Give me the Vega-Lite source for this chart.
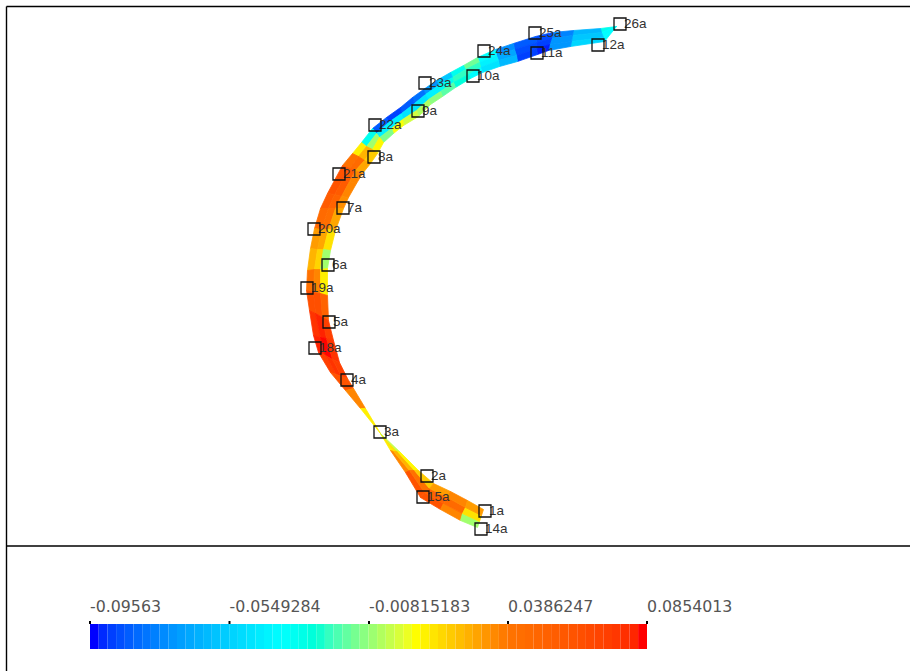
{"$schema":"https://vega.github.io/schema/vega-lite/v6.json","width":910,"height":671,"autosize":"none","padding":0,"background":"white","view":{"stroke":null},
"datasets":{
"mesh":[
{"type":"Feature","properties":{"v":-0.03},"geometry":{"type":"Polygon","coordinates":[[[616,26],[600,28],[601,32],[616,26]]]}},
{"type":"Feature","properties":{"v":-0.035},"geometry":{"type":"Polygon","coordinates":[[[616,26],[601,32],[603,37],[616,26]]]}},
{"type":"Feature","properties":{"v":-0.035},"geometry":{"type":"Polygon","coordinates":[[[616,26],[603,37],[604,41],[616,26]]]}},
{"type":"Feature","properties":{"v":-0.06},"geometry":{"type":"Polygon","coordinates":[[[600,28],[573,30],[572,35],[601,32],[600,28]]]}},
{"type":"Feature","properties":{"v":-0.055},"geometry":{"type":"Polygon","coordinates":[[[601,32],[572,35],[571,41],[603,37],[601,32]]]}},
{"type":"Feature","properties":{"v":-0.05},"geometry":{"type":"Polygon","coordinates":[[[603,37],[571,41],[570,46],[604,41],[603,37]]]}},
{"type":"Feature","properties":{"v":-0.075},"geometry":{"type":"Polygon","coordinates":[[[573,30],[552,32],[551,38],[572,35],[573,30]]]}},
{"type":"Feature","properties":{"v":-0.07},"geometry":{"type":"Polygon","coordinates":[[[572,35],[551,38],[549,44],[571,41],[572,35]]]}},
{"type":"Feature","properties":{"v":-0.07},"geometry":{"type":"Polygon","coordinates":[[[571,41],[549,44],[548,50],[570,46],[571,41]]]}},
{"type":"Feature","properties":{"v":-0.088},"geometry":{"type":"Polygon","coordinates":[[[552,32],[535,36],[536,42],[551,38],[552,32]]]}},
{"type":"Feature","properties":{"v":-0.09},"geometry":{"type":"Polygon","coordinates":[[[551,38],[536,42],[536,48],[549,44],[551,38]]]}},
{"type":"Feature","properties":{"v":-0.094},"geometry":{"type":"Polygon","coordinates":[[[549,44],[536,48],[537,54],[548,50],[549,44]]]}},
{"type":"Feature","properties":{"v":-0.085},"geometry":{"type":"Polygon","coordinates":[[[535,36],[513,43],[514,49],[536,42],[535,36]]]}},
{"type":"Feature","properties":{"v":-0.088},"geometry":{"type":"Polygon","coordinates":[[[536,42],[514,49],[516,55],[536,48],[536,42]]]}},
{"type":"Feature","properties":{"v":-0.09},"geometry":{"type":"Polygon","coordinates":[[[536,48],[516,55],[517,61],[537,54],[536,48]]]}},
{"type":"Feature","properties":{"v":-0.072},"geometry":{"type":"Polygon","coordinates":[[[513,43],[495,49],[496,55],[514,49],[513,43]]]}},
{"type":"Feature","properties":{"v":-0.065},"geometry":{"type":"Polygon","coordinates":[[[514,49],[496,55],[498,60],[516,55],[514,49]]]}},
{"type":"Feature","properties":{"v":-0.06},"geometry":{"type":"Polygon","coordinates":[[[516,55],[498,60],[499,66],[517,61],[516,55]]]}},
{"type":"Feature","properties":{"v":-0.035},"geometry":{"type":"Polygon","coordinates":[[[495,49],[477,57],[479,62],[496,55],[495,49]]]}},
{"type":"Feature","properties":{"v":-0.04},"geometry":{"type":"Polygon","coordinates":[[[496,55],[479,62],[480,67],[498,60],[496,55]]]}},
{"type":"Feature","properties":{"v":-0.045},"geometry":{"type":"Polygon","coordinates":[[[498,60],[480,67],[482,72],[499,66],[498,60]]]}},
{"type":"Feature","properties":{"v":-0.012},"geometry":{"type":"Polygon","coordinates":[[[477,57],[463,65],[465,69],[479,62],[477,57]]]}},
{"type":"Feature","properties":{"v":-0.02},"geometry":{"type":"Polygon","coordinates":[[[479,62],[465,69],[468,74],[480,67],[479,62]]]}},
{"type":"Feature","properties":{"v":-0.035},"geometry":{"type":"Polygon","coordinates":[[[480,67],[468,74],[470,78],[482,72],[480,67]]]}},
{"type":"Feature","properties":{"v":-0.03},"geometry":{"type":"Polygon","coordinates":[[[463,65],[450,72],[452,77],[465,69],[463,65]]]}},
{"type":"Feature","properties":{"v":-0.02},"geometry":{"type":"Polygon","coordinates":[[[465,69],[452,77],[453,82],[468,74],[465,69]]]}},
{"type":"Feature","properties":{"v":-0.025},"geometry":{"type":"Polygon","coordinates":[[[468,74],[453,82],[455,87],[470,78],[468,74]]]}},
{"type":"Feature","properties":{"v":-0.055},"geometry":{"type":"Polygon","coordinates":[[[450,72],[436,80],[438,85],[452,77],[450,72]]]}},
{"type":"Feature","properties":{"v":-0.03},"geometry":{"type":"Polygon","coordinates":[[[452,77],[438,85],[440,91],[453,82],[452,77]]]}},
{"type":"Feature","properties":{"v":-0.015},"geometry":{"type":"Polygon","coordinates":[[[453,82],[440,91],[442,96],[455,87],[453,82]]]}},
{"type":"Feature","properties":{"v":-0.07},"geometry":{"type":"Polygon","coordinates":[[[436,80],[423,89],[425,94],[438,85],[436,80]]]}},
{"type":"Feature","properties":{"v":-0.04},"geometry":{"type":"Polygon","coordinates":[[[438,85],[425,94],[428,99],[440,91],[438,85]]]}},
{"type":"Feature","properties":{"v":-0.008},"geometry":{"type":"Polygon","coordinates":[[[440,91],[428,99],[430,104],[442,96],[440,91]]]}},
{"type":"Feature","properties":{"v":-0.08},"geometry":{"type":"Polygon","coordinates":[[[423,89],[412,97],[414,103],[425,94],[423,89]]]}},
{"type":"Feature","properties":{"v":-0.045},"geometry":{"type":"Polygon","coordinates":[[[425,94],[414,103],[416,110],[428,99],[425,94]]]}},
{"type":"Feature","properties":{"v":-0.003},"geometry":{"type":"Polygon","coordinates":[[[428,99],[416,110],[418,116],[430,104],[428,99]]]}},
{"type":"Feature","properties":{"v":-0.085},"geometry":{"type":"Polygon","coordinates":[[[412,97],[400,107],[401,113],[414,103],[412,97]]]}},
{"type":"Feature","properties":{"v":-0.045},"geometry":{"type":"Polygon","coordinates":[[[414,103],[401,113],[402,119],[416,110],[414,103]]]}},
{"type":"Feature","properties":{"v":0.002},"geometry":{"type":"Polygon","coordinates":[[[416,110],[402,119],[403,125],[418,116],[416,110]]]}},
{"type":"Feature","properties":{"v":-0.09},"geometry":{"type":"Polygon","coordinates":[[[400,107],[386,117],[388,122],[401,113],[400,107]]]}},
{"type":"Feature","properties":{"v":-0.04},"geometry":{"type":"Polygon","coordinates":[[[401,113],[388,122],[391,128],[402,119],[401,113]]]}},
{"type":"Feature","properties":{"v":0.008},"geometry":{"type":"Polygon","coordinates":[[[402,119],[391,128],[393,133],[403,125],[402,119]]]}},
{"type":"Feature","properties":{"v":-0.085},"geometry":{"type":"Polygon","coordinates":[[[386,117],[372,128],[376,133],[388,122],[386,117]]]}},
{"type":"Feature","properties":{"v":-0.04},"geometry":{"type":"Polygon","coordinates":[[[388,122],[376,133],[379,137],[391,128],[388,122]]]}},
{"type":"Feature","properties":{"v":-0.01},"geometry":{"type":"Polygon","coordinates":[[[391,128],[379,137],[383,142],[393,133],[391,128]]]}},
{"type":"Feature","properties":{"v":-0.03},"geometry":{"type":"Polygon","coordinates":[[[372,128],[361,142],[366,146],[376,133],[372,128]]]}},
{"type":"Feature","properties":{"v":-0.005},"geometry":{"type":"Polygon","coordinates":[[[376,133],[366,146],[372,149],[379,137],[376,133]]]}},
{"type":"Feature","properties":{"v":0.01},"geometry":{"type":"Polygon","coordinates":[[[379,137],[372,149],[377,153],[383,142],[379,137]]]}},
{"type":"Feature","properties":{"v":0.012},"geometry":{"type":"Polygon","coordinates":[[[361,142],[352,153],[358,156],[366,146],[361,142]]]}},
{"type":"Feature","properties":{"v":0.025},"geometry":{"type":"Polygon","coordinates":[[[366,146],[358,156],[364,160],[372,149],[366,146]]]}},
{"type":"Feature","properties":{"v":0.02},"geometry":{"type":"Polygon","coordinates":[[[372,149],[364,160],[370,163],[377,153],[372,149]]]}},
{"type":"Feature","properties":{"v":0.04},"geometry":{"type":"Polygon","coordinates":[[[352,153],[342,165],[349,168],[358,156],[352,153]]]}},
{"type":"Feature","properties":{"v":0.045},"geometry":{"type":"Polygon","coordinates":[[[358,156],[349,168],[355,170],[364,160],[358,156]]]}},
{"type":"Feature","properties":{"v":0.028},"geometry":{"type":"Polygon","coordinates":[[[364,160],[355,170],[362,173],[370,163],[364,160]]]}},
{"type":"Feature","properties":{"v":0.06},"geometry":{"type":"Polygon","coordinates":[[[342,165],[335,178],[342,180],[349,168],[342,165]]]}},
{"type":"Feature","properties":{"v":0.055},"geometry":{"type":"Polygon","coordinates":[[[349,168],[342,180],[349,181],[355,170],[349,168]]]}},
{"type":"Feature","properties":{"v":0.035},"geometry":{"type":"Polygon","coordinates":[[[355,170],[349,181],[356,183],[362,173],[355,170]]]}},
{"type":"Feature","properties":{"v":0.06},"geometry":{"type":"Polygon","coordinates":[[[335,178],[327,193],[334,194],[342,180],[335,178]]]}},
{"type":"Feature","properties":{"v":0.055},"geometry":{"type":"Polygon","coordinates":[[[342,180],[334,194],[341,196],[349,181],[342,180]]]}},
{"type":"Feature","properties":{"v":0.035},"geometry":{"type":"Polygon","coordinates":[[[349,181],[341,196],[348,197],[356,183],[349,181]]]}},
{"type":"Feature","properties":{"v":0.055},"geometry":{"type":"Polygon","coordinates":[[[327,193],[320,208],[328,208],[334,194],[327,193]]]}},
{"type":"Feature","properties":{"v":0.05},"geometry":{"type":"Polygon","coordinates":[[[334,194],[328,208],[335,208],[341,196],[334,194]]]}},
{"type":"Feature","properties":{"v":0.033},"geometry":{"type":"Polygon","coordinates":[[[341,196],[335,208],[343,208],[348,197],[341,196]]]}},
{"type":"Feature","properties":{"v":0.045},"geometry":{"type":"Polygon","coordinates":[[[320,208],[314,228],[321,229],[328,208],[320,208]]]}},
{"type":"Feature","properties":{"v":0.042},"geometry":{"type":"Polygon","coordinates":[[[328,208],[321,229],[328,229],[335,208],[328,208]]]}},
{"type":"Feature","properties":{"v":0.028},"geometry":{"type":"Polygon","coordinates":[[[335,208],[328,229],[335,230],[343,208],[335,208]]]}},
{"type":"Feature","properties":{"v":0.03},"geometry":{"type":"Polygon","coordinates":[[[314,228],[310,248],[317,249],[321,229],[314,228]]]}},
{"type":"Feature","properties":{"v":0.028},"geometry":{"type":"Polygon","coordinates":[[[321,229],[317,249],[323,249],[328,229],[321,229]]]}},
{"type":"Feature","properties":{"v":0.015},"geometry":{"type":"Polygon","coordinates":[[[328,229],[323,249],[330,250],[335,230],[328,229]]]}},
{"type":"Feature","properties":{"v":0.025},"geometry":{"type":"Polygon","coordinates":[[[310,248],[307,270],[314,269],[317,249],[310,248]]]}},
{"type":"Feature","properties":{"v":0.018},"geometry":{"type":"Polygon","coordinates":[[[317,249],[314,269],[320,269],[323,249],[317,249]]]}},
{"type":"Feature","properties":{"v":-0.005},"geometry":{"type":"Polygon","coordinates":[[[323,249],[320,269],[327,268],[330,250],[323,249]]]}},
{"type":"Feature","properties":{"v":0.04},"geometry":{"type":"Polygon","coordinates":[[[307,270],[306,290],[313,292],[314,269],[307,270]]]}},
{"type":"Feature","properties":{"v":0.035},"geometry":{"type":"Polygon","coordinates":[[[314,269],[313,292],[320,293],[320,269],[314,269]]]}},
{"type":"Feature","properties":{"v":0.012},"geometry":{"type":"Polygon","coordinates":[[[320,269],[320,293],[327,295],[327,268],[320,269]]]}},
{"type":"Feature","properties":{"v":0.062},"geometry":{"type":"Polygon","coordinates":[[[306,290],[309,310],[315,313],[313,292],[306,290]]]}},
{"type":"Feature","properties":{"v":0.062},"geometry":{"type":"Polygon","coordinates":[[[313,292],[315,313],[322,317],[320,293],[313,292]]]}},
{"type":"Feature","properties":{"v":0.05},"geometry":{"type":"Polygon","coordinates":[[[320,293],[322,317],[328,320],[327,295],[320,293]]]}},
{"type":"Feature","properties":{"v":0.075},"geometry":{"type":"Polygon","coordinates":[[[309,310],[313,335],[320,337],[315,313],[309,310]]]}},
{"type":"Feature","properties":{"v":0.08},"geometry":{"type":"Polygon","coordinates":[[[315,313],[320,337],[326,338],[322,317],[315,313]]]}},
{"type":"Feature","properties":{"v":0.07},"geometry":{"type":"Polygon","coordinates":[[[322,317],[326,338],[333,340],[328,320],[322,317]]]}},
{"type":"Feature","properties":{"v":0.08},"geometry":{"type":"Polygon","coordinates":[[[313,335],[318,352],[325,355],[320,337],[313,335]]]}},
{"type":"Feature","properties":{"v":0.085},"geometry":{"type":"Polygon","coordinates":[[[320,337],[325,355],[332,359],[326,338],[320,337]]]}},
{"type":"Feature","properties":{"v":0.075},"geometry":{"type":"Polygon","coordinates":[[[326,338],[332,359],[339,362],[333,340],[326,338]]]}},
{"type":"Feature","properties":{"v":0.07},"geometry":{"type":"Polygon","coordinates":[[[318,352],[330,372],[336,374],[325,355],[318,352]]]}},
{"type":"Feature","properties":{"v":0.075},"geometry":{"type":"Polygon","coordinates":[[[325,355],[336,374],[341,376],[332,359],[325,355]]]}},
{"type":"Feature","properties":{"v":0.07},"geometry":{"type":"Polygon","coordinates":[[[332,359],[341,376],[347,378],[339,362],[332,359]]]}},
{"type":"Feature","properties":{"v":0.06},"geometry":{"type":"Polygon","coordinates":[[[330,372],[345,390],[353,388],[347,378],[330,372]]]}},
{"type":"Feature","properties":{"v":0.035},"geometry":{"type":"Polygon","coordinates":[[[345,390],[360,408],[365,408],[353,388],[345,390]]]}},
{"type":"Feature","properties":{"v":0.012},"geometry":{"type":"Polygon","coordinates":[[[360,408],[380,433],[365,408],[360,408]]]}},
{"type":"Feature","properties":{"v":0.012},"geometry":{"type":"Polygon","coordinates":[[[380,433],[390,450],[393,451],[380,433]]]}},
{"type":"Feature","properties":{"v":0.015},"geometry":{"type":"Polygon","coordinates":[[[380,433],[393,451],[397,451],[380,433]]]}},
{"type":"Feature","properties":{"v":0.0},"geometry":{"type":"Polygon","coordinates":[[[380,433],[397,451],[400,452],[380,433]]]}},
{"type":"Feature","properties":{"v":0.035},"geometry":{"type":"Polygon","coordinates":[[[390,450],[405,472],[409,470],[393,451],[390,450]]]}},
{"type":"Feature","properties":{"v":0.025},"geometry":{"type":"Polygon","coordinates":[[[393,451],[409,470],[414,470],[397,451],[393,451]]]}},
{"type":"Feature","properties":{"v":0.01},"geometry":{"type":"Polygon","coordinates":[[[397,451],[414,470],[418,470],[400,452],[397,451]]]}},
{"type":"Feature","properties":{"v":0.06},"geometry":{"type":"Polygon","coordinates":[[[405,472],[420,497],[424,492],[409,470],[405,472]]]}},
{"type":"Feature","properties":{"v":0.04},"geometry":{"type":"Polygon","coordinates":[[[409,470],[424,492],[429,488],[414,470],[409,470]]]}},
{"type":"Feature","properties":{"v":0.02},"geometry":{"type":"Polygon","coordinates":[[[414,470],[429,488],[433,483],[418,470],[414,470]]]}},
{"type":"Feature","properties":{"v":0.06},"geometry":{"type":"Polygon","coordinates":[[[420,497],[440,509],[443,503],[424,492],[420,497]]]}},
{"type":"Feature","properties":{"v":0.05},"geometry":{"type":"Polygon","coordinates":[[[424,492],[443,503],[447,497],[429,488],[424,492]]]}},
{"type":"Feature","properties":{"v":0.03},"geometry":{"type":"Polygon","coordinates":[[[429,488],[447,497],[450,491],[433,483],[429,488]]]}},
{"type":"Feature","properties":{"v":0.035},"geometry":{"type":"Polygon","coordinates":[[[440,509],[460,520],[462,513],[443,503],[440,509]]]}},
{"type":"Feature","properties":{"v":0.045},"geometry":{"type":"Polygon","coordinates":[[[443,503],[462,513],[465,507],[447,497],[443,503]]]}},
{"type":"Feature","properties":{"v":0.035},"geometry":{"type":"Polygon","coordinates":[[[447,497],[465,507],[467,500],[450,491],[447,497]]]}},
{"type":"Feature","properties":{"v":-0.005},"geometry":{"type":"Polygon","coordinates":[[[460,520],[477,527],[479,521],[462,513],[460,520]]]}},
{"type":"Feature","properties":{"v":0.015},"geometry":{"type":"Polygon","coordinates":[[[462,513],[479,521],[481,515],[465,507],[462,513]]]}},
{"type":"Feature","properties":{"v":0.03},"geometry":{"type":"Polygon","coordinates":[[[465,507],[481,515],[483,509],[467,500],[465,507]]]}}
],
"nodes":[
{"n":"1a","x":485,"y":511},{"n":"2a","x":427,"y":476},{"n":"3a","x":380,"y":432},{"n":"4a","x":347,"y":380},{"n":"5a","x":329,"y":322},{"n":"6a","x":328,"y":265},{"n":"7a","x":343,"y":208},{"n":"8a","x":374,"y":157},{"n":"9a","x":418,"y":111},{"n":"10a","x":473,"y":76},{"n":"11a","x":537,"y":53},{"n":"12a","x":598,"y":45},{"n":"14a","x":481,"y":529},{"n":"15a","x":423,"y":497},{"n":"18a","x":315,"y":348},{"n":"19a","x":307,"y":288},{"n":"20a","x":314,"y":229},{"n":"21a","x":339,"y":174},{"n":"22a","x":375,"y":125},{"n":"23a","x":425,"y":83},{"n":"24a","x":484,"y":51},{"n":"25a","x":535,"y":33},{"n":"26a","x":620,"y":24}
],
"frame":[
{"x":6.5,"y":6.5,"x2":910,"y2":6.5},{"x":6.5,"y":6.5,"x2":6.5,"y2":671},{"x":6.5,"y":546,"x2":910,"y2":546}
],
"legend":[
{"a":90,"b":98.7,"v":-0.0956},{"a":98.7,"b":107.4,"v":-0.0930},{"a":107.4,"b":116.1,"v":-0.0902},{"a":116.1,"b":124.8,"v":-0.0874},{"a":124.8,"b":133.5,"v":-0.0846},{"a":133.5,"b":142.2,"v":-0.0817},{"a":142.2,"b":150.9,"v":-0.0789},{"a":150.9,"b":159.6,"v":-0.0761},{"a":159.6,"b":168.3,"v":-0.0733},{"a":168.3,"b":177,"v":-0.0704},{"a":177,"b":185.7,"v":-0.0676},{"a":185.7,"b":194.4,"v":-0.0648},{"a":194.4,"b":203.1,"v":-0.0620},{"a":203.1,"b":211.8,"v":-0.0591},{"a":211.8,"b":220.5,"v":-0.0563},{"a":220.5,"b":229.2,"v":-0.0535},{"a":229.2,"b":237.9,"v":-0.0507},{"a":237.9,"b":246.6,"v":-0.0478},{"a":246.6,"b":255.3,"v":-0.0450},{"a":255.3,"b":264,"v":-0.0422},{"a":264,"b":272.7,"v":-0.0394},{"a":272.7,"b":281.4,"v":-0.0365},{"a":281.4,"b":290.1,"v":-0.0337},{"a":290.1,"b":298.8,"v":-0.0309},{"a":298.8,"b":307.5,"v":-0.0281},{"a":307.5,"b":316.2,"v":-0.0252},{"a":316.2,"b":324.9,"v":-0.0224},{"a":324.9,"b":333.6,"v":-0.0196},{"a":333.6,"b":342.3,"v":-0.0168},{"a":342.3,"b":351,"v":-0.0139},{"a":351,"b":359.7,"v":-0.0111},{"a":359.7,"b":368.4,"v":-0.0083},{"a":368.4,"b":377.1,"v":-0.0055},{"a":377.1,"b":385.8,"v":-0.0026},{"a":385.8,"b":394.5,"v":0.0002},{"a":394.5,"b":403.2,"v":0.0030},{"a":403.2,"b":411.9,"v":0.0058},{"a":411.9,"b":420.6,"v":0.0087},{"a":420.6,"b":429.3,"v":0.0115},{"a":429.3,"b":438,"v":0.0143},{"a":438,"b":446.7,"v":0.0171},{"a":446.7,"b":455.4,"v":0.0200},{"a":455.4,"b":464.1,"v":0.0228},{"a":464.1,"b":472.8,"v":0.0256},{"a":472.8,"b":481.5,"v":0.0284},{"a":481.5,"b":490.2,"v":0.0313},{"a":490.2,"b":498.9,"v":0.0341},{"a":498.9,"b":507.6,"v":0.0369},{"a":507.6,"b":516.3,"v":0.0397},{"a":516.3,"b":525,"v":0.0426},{"a":525,"b":533.7,"v":0.0454},{"a":533.7,"b":542.4,"v":0.0482},{"a":542.4,"b":551.1,"v":0.0510},{"a":551.1,"b":559.8,"v":0.0539},{"a":559.8,"b":568.5,"v":0.0567},{"a":568.5,"b":577.2,"v":0.0595},{"a":577.2,"b":585.9,"v":0.0623},{"a":585.9,"b":594.6,"v":0.0652},{"a":594.6,"b":603.3,"v":0.0680},{"a":603.3,"b":612,"v":0.0708},{"a":612,"b":620.7,"v":0.0736},{"a":620.7,"b":629.4,"v":0.0765},{"a":629.4,"b":638.1,"v":0.0793},{"a":638.1,"b":647,"v":0.0854}
],
"ticks":[
{"x":90,"l":"-0.09563"},{"x":229.5,"l":"-0.0549284"},{"x":369,"l":"-0.00815183"},{"x":508,"l":"0.0386247"},{"x":647,"l":"0.0854013"}
]},
"layer":[
{"data":{"name":"frame"},"mark":{"type":"rule","color":"#000","strokeWidth":1.4},"encoding":{
"x":{"field":"x","type":"quantitative","scale":{"domain":[0,910],"nice":false,"zero":false},"axis":null},
"y":{"field":"y","type":"quantitative","scale":{"domain":[671,0],"nice":false,"zero":false},"axis":null},
"x2":{"field":"x2"},"y2":{"field":"y2"}}},
{"data":{"name":"mesh"},"projection":{"type":"identity","scale":1,"translate":[0.5,0.5]},"mark":{"type":"geoshape","strokeWidth":0.8},"encoding":{
"color":{"field":"properties.v","type":"quantitative","legend":null,"scale":{"domain":[-0.09563,-0.035,0.0085,0.0386,0.0854],"range":["#0000ff","#00ffff","#ffff00","#ff7300","#ff0000"]}},
"stroke":{"field":"properties.v","type":"quantitative","legend":null,"scale":{"domain":[-0.09563,-0.035,0.0085,0.0386,0.0854],"range":["#0000ff","#00ffff","#ffff00","#ff7300","#ff0000"]}}}},
{"data":{"name":"legend"},"mark":{"type":"rect"},"encoding":{
"x":{"field":"a","type":"quantitative","scale":{"domain":[0,910],"nice":false,"zero":false},"axis":null},"x2":{"field":"b"},
"y":{"datum":624,"type":"quantitative","scale":{"domain":[671,0],"nice":false,"zero":false},"axis":null},"y2":{"datum":649},
"color":{"field":"v","type":"quantitative","legend":null,"scale":{"domain":[-0.09563,-0.035,0.0085,0.0386,0.0854],"range":["#0000ff","#00ffff","#ffff00","#ff7300","#ff0000"]}}}},
{"data":{"name":"ticks"},"mark":{"type":"rule","color":"#000","strokeWidth":2},"encoding":{
"x":{"field":"x","type":"quantitative","scale":{"domain":[0,910],"nice":false,"zero":false},"axis":null},
"y":{"datum":621,"type":"quantitative","scale":{"domain":[671,0],"nice":false,"zero":false},"axis":null},"y2":{"datum":624}}},
{"data":{"name":"ticks"},"mark":{"type":"text","align":"left","baseline":"middle","font":"DejaVu Sans","fontSize":15.8,"color":"#555"},"encoding":{
"x":{"field":"x","type":"quantitative","scale":{"domain":[0,910],"nice":false,"zero":false},"axis":null},
"y":{"datum":607,"type":"quantitative","scale":{"domain":[671,0],"nice":false,"zero":false},"axis":null},"text":{"field":"l"}}},
{"data":{"name":"nodes"},"mark":{"type":"text","align":"left","baseline":"middle","dx":4,"font":"Liberation Sans","fontSize":13.5,"color":"#333"},"encoding":{
"x":{"field":"x","type":"quantitative","scale":{"domain":[0,910],"nice":false,"zero":false},"axis":null},
"y":{"field":"y","type":"quantitative","scale":{"domain":[671,0],"nice":false,"zero":false},"axis":null},"text":{"field":"n"}}},
{"data":{"name":"nodes"},"mark":{"type":"square","filled":false,"size":144,"color":"#111","strokeWidth":1.3,"opacity":1},"encoding":{
"x":{"field":"x","type":"quantitative","scale":{"domain":[0,910],"nice":false,"zero":false},"axis":null},
"y":{"field":"y","type":"quantitative","scale":{"domain":[671,0],"nice":false,"zero":false},"axis":null}}}
]}
